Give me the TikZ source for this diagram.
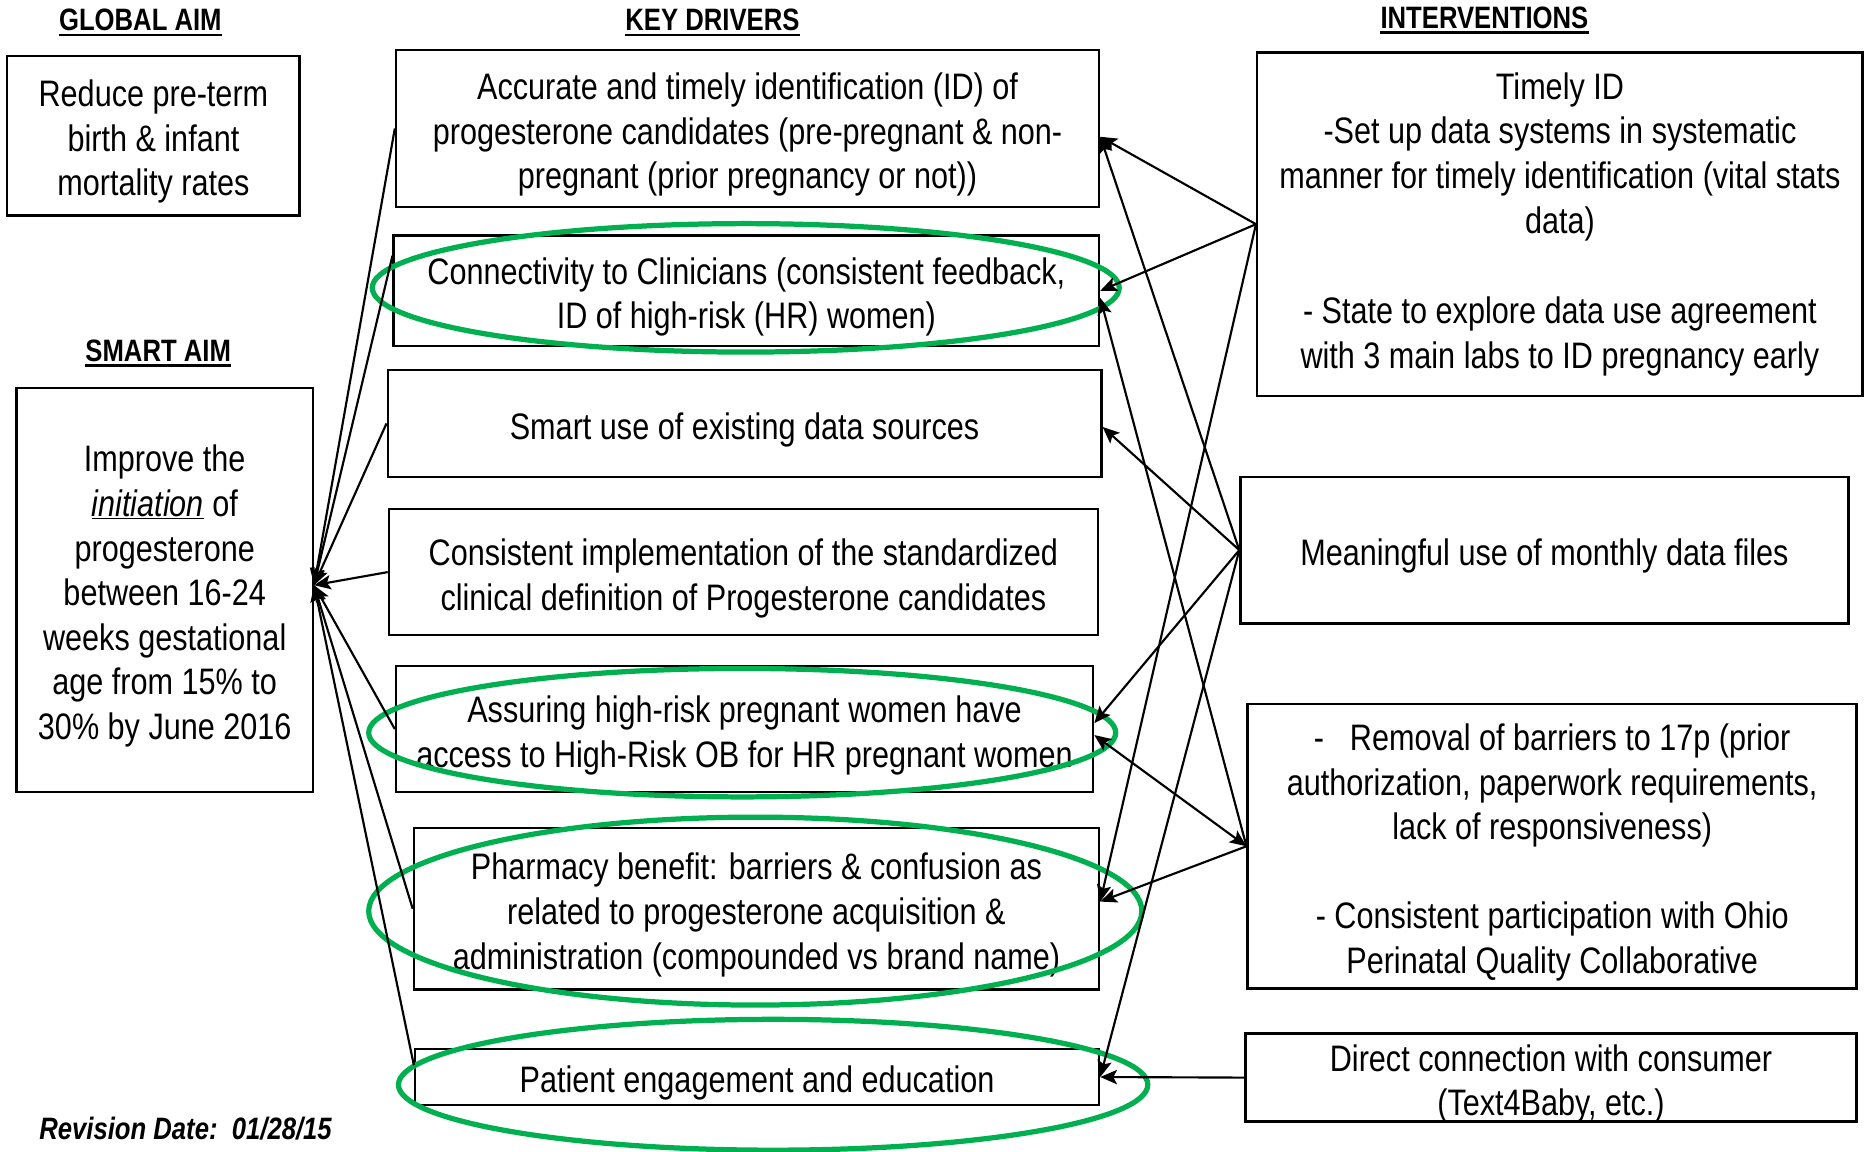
\documentclass[tikz,border=0pt]{standalone}
\usepackage{fontspec}
\setmainfont{Liberation Sans}[FakeStretch=0.83]
\usetikzlibrary{arrows.meta}
\definecolor{ringgreen}{RGB}{0,176,80}
% extra room above the first line of a box text
\newcommand\topgap{\rule{0pt}{33pt}}
\begin{document}
\begin{tikzpicture}[x={(1pt,0pt)}, y={(0pt,-1pt)},
  box/.style={draw, line width=2.1pt, align=center, inner sep=0pt,
    font=\fontsize{31}{37.5}\selectfont},
  head/.style={font=\fontsize{26}{30}\selectfont\bfseries, inner sep=0pt},
  headline/.style={line width=2pt},
  tip/.tip={Stealth[length=14pt,width=12pt,inset=3pt]},
  conn/.style={line width=1.8pt, -tip},
  biconn/.style={line width=1.8pt, tip-tip},
  ring/.style={draw=ringgreen, line width=4.4pt}]

\useasboundingbox (0,0) rectangle (1568,968);

% column headings
\node[head] (hgoal) at (118,17) {GLOBAL AIM};
\node[head] (hkey) at (599,17) {KEY DRIVERS};
\node[head] (hint) at (1248,15) {INTERVENTIONS};
\node[head] (hsmart) at (133,295) {SMART AIM};
\foreach \h in {hgoal,hkey,hint,hsmart}
  \draw[headline] ([yshift=-3pt]\h.south west) -- ([yshift=-3pt]\h.south east);

% aims
\node[box, minimum width=246pt, minimum height=134pt] (goal) at (129,114)
  {\topgap Reduce pre-term\\birth \& infant\\mortality rates};
\node[box, minimum width=249pt, minimum height=340pt] (smart) at (138.5,496)
  {\topgap Improve the\\\underline{\itshape initiation} of\\progesterone\\between 16-24\\weeks gestational\\age from 15\% to\\30\% by June 2016};

% key drivers
\node[box, minimum width=591pt, minimum height=132pt] (kd1) at (628.5,108)
  {\topgap Accurate and timely identification (ID) of\\progesterone candidates (pre-pregnant \& non-\\pregnant (prior pregnancy or not))};
\node[box, minimum width=593pt, minimum height=93pt] (kd2) at (627.5,244.5)
  {\topgap Connectivity to Clinicians (consistent feedback,\\ID of high-risk (HR) women)};
\node[box, minimum width=600pt, minimum height=90pt] (kd3) at (626,356)
  {\topgap Smart use of existing data sources};
\node[box, minimum width=596pt, minimum height=106pt] (kd4) at (625,481)
  {\topgap Consistent implementation of the standardized\\clinical definition of Progesterone candidates};
\node[box, minimum width=586pt, minimum height=106pt] (kd5) at (626,613)
  {\topgap Assuring high-risk pregnant women have\\access to High-Risk OB for HR pregnant women};
\node[box, minimum width=576pt, minimum height=136pt] (kd6) at (636,764)
  {\topgap Pharmacy benefit: barriers \& confusion as\\related to progesterone acquisition \&\\administration (compounded vs brand name)};
\node[box, minimum width=575pt, minimum height=47pt] (kd7) at (636.5,905.5)
  {\topgap Patient engagement and education};

% interventions
\node[box, minimum width=509pt, minimum height=289pt] (i1) at (1311.5,188.5)
  {Timely ID\\-Set up data systems in systematic\\manner for timely identification (vital stats\\data)\\[38.5pt]- State to explore data use agreement\\with 3 main labs to ID pregnancy early};
\node[box, minimum width=511pt, minimum height=123pt] (i2) at (1298.5,462.5)
  {\topgap Meaningful use of monthly data files};
\node[box, minimum width=512pt, minimum height=239pt] (i3) at (1305,711.5)
  {\topgap -\hspace{0.7em}Removal of barriers to 17p (prior\\authorization, paperwork requirements,\\lack of responsiveness)\\[37.5pt]- Consistent participation with Ohio\\Perinatal Quality Collaborative};
\node[box, minimum width=514pt, minimum height=74pt] (i4) at (1304,906)
  {\rule{0pt}{27pt}Direct connection with consumer\\\smash{(Text4Baby, etc.)}};

\node[font=\fontsize{26}{30}\selectfont\bfseries\itshape, inner sep=0pt] (rev) at (156,949)
  {Revision Date:\ \ 01/28/15};

% highlighted drivers
\draw[ring] (627,242) ellipse [x radius=314pt, y radius=54pt];
\draw[ring] (624,616) ellipse [x radius=314pt, y radius=54pt];
\draw[ring] (635,766) ellipse [x radius=325pt, y radius=79pt];
\draw[ring] (650,912) ellipse [x radius=315pt, y radius=55pt];

% drivers feed the smart aim
\coordinate (aim) at ([yshift=4pt]smart.east);
\draw[conn] (kd1.west) -- (aim);
\draw[conn] ([yshift=29.5pt]kd2.west) -- (aim);
\draw[conn] (kd3.west) -- (aim);
\draw[conn] (kd4.west) -- (aim);
\draw[conn] (kd5.west) -- (aim);
\draw[conn] (kd6.west) -- (aim);
\draw[conn] ([yshift=10pt]kd7.west) -- (aim);

% interventions act on drivers
\draw[conn] (i1.west) -- ([yshift=-7pt]kd1.east);
\draw[conn] (i1.west) -- (kd2.east);
\draw[conn] (i1.west) -- ([yshift=6pt]kd6.east);
\draw[conn] (i2.west) -- ([yshift=-7pt]kd1.east);
\draw[conn] (i2.west) -- ([yshift=-3pt]kd3.east);
\draw[conn] (i2.west) -- ([yshift=5pt]kd5.east);
\draw[conn] (i2.west) -- (kd7.east);
\draw[conn] (i3.west) -- ([yshift=-6pt]kd2.east);
\draw[biconn] ([yshift=-5pt]kd5.east) -- (i3.west);
\draw[conn] (i3.west) -- ([yshift=6pt]kd6.east);
\draw[conn] (i4.west) -- (kd7.east);
\end{tikzpicture}
\end{document}
